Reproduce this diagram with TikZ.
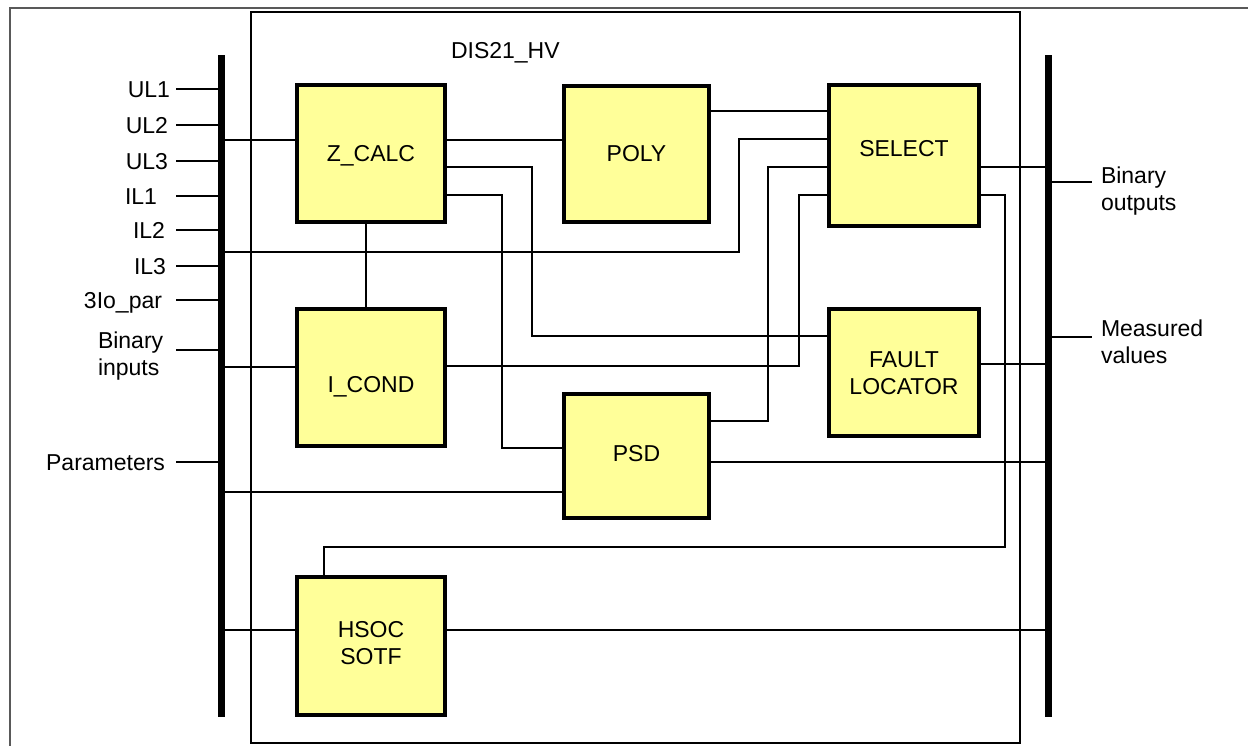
\documentclass[tikz,border=0pt]{standalone}
\usepackage{fontspec}
\setmainfont{Liberation Sans}
\definecolor{boxyellow}{RGB}{255,255,153}
\begin{document}
\begin{tikzpicture}[x=1pt,y=-1pt,
  every node/.style={font=\fontsize{23}{27}\selectfont, inner sep=0pt, outer sep=0pt},
  blk/.style={draw, line width=3.5pt, fill=boxyellow, rectangle},
  frame/.style={draw, line width=2pt, rectangle},
  wire/.style={line width=1.5pt},
  iowire/.style={line width=1.8pt},
  bus/.style={fill=black, rectangle, draw=none},
  lbl/.style={text height=16.5pt, text depth=0pt},
  mlbl/.style={align=center},
  sidelbl/.style={align=left},
]
\useasboundingbox (0,0) rectangle (1248,746);
% outer sheet frame (cropped)
\draw[line width=2pt, black!65] (10,746) -- (10,8.5) -- (1248,8.5);

% main function block
\node[frame, minimum width=769.5, minimum height=731] (dis) at (635.25,377.5) {};
\node[lbl, anchor=west] (title) at (451,50) {DIS21\_HV};

% buses
\node[bus, minimum width=7, minimum height=662] (lbus) at (221.5,386) {};
\node[bus, minimum width=7, minimum height=662] (rbus) at (1048.5,386) {};

% blocks
\node[blk, minimum width=148, minimum height=137] (zcalc)  at (371,153.5) {};
\node[blk, minimum width=145, minimum height=136] (poly)   at (636.5,154) {};
\node[blk, minimum width=150, minimum height=141] (select) at (904,155.5) {};
\node[blk, minimum width=148, minimum height=137] (icond)  at (371,377.5) {};
\node[blk, minimum width=150, minimum height=127] (fault)  at (904,372.5) {};
\node[blk, minimum width=145, minimum height=124] (psd)    at (636.5,456) {};
\node[blk, minimum width=148, minimum height=138] (hsoc)   at (371,646) {};

% block texts
\node[lbl] (zcalct) at (371,153) {Z\_CALC};
\node[lbl] (polyt) at (636.5,153) {POLY};
\node[lbl] (selectt) at (904,148) {SELECT};
\node[lbl] (icondt) at (371,384) {I\_COND};
\node[mlbl] (faultt) at (904,373) {FAULT\\LOCATOR};
\node[lbl] (psdt) at (636.5,453) {PSD};
\node[mlbl] (hsoct) at (371,643) {HSOC\\SOTF};

% input labels
\node[lbl, anchor=east] (ul1) at (170,89) {UL1};
\node[lbl, anchor=east] (ul2) at (168,125) {UL2};
\node[lbl, anchor=east] (ul3) at (168,161) {UL3};
\node[lbl, anchor=east] (il1) at (157,196) {IL1};
\node[lbl, anchor=east] (il2) at (165,230) {IL2};
\node[lbl, anchor=east] (il3) at (166,266) {IL3};
\node[lbl, anchor=east] (io) at (162,300) {3Io\_par};
\node[sidelbl, anchor=west] (binin) at (98,356) {Binary\\inputs};
\node[lbl, anchor=east] (par) at (165,462) {Parameters};

\foreach \n/\y in {ul1/89,ul2/125,ul3/161,il1/196,il2/230,il3/266,io/300,par/462}
  \draw[iowire] (176,\y) -- (lbus.west |- 0,\y);
\draw[iowire] (176,350) -- (lbus.west |- 0,350);

% output labels
\node[sidelbl, anchor=west] (binout) at (1101,191) {Binary\\outputs};
\node[sidelbl, anchor=west] (meas) at (1101,342) {Measured\\values};
\draw[iowire] (rbus.east |- 0,182) -- (1092,182);
\draw[iowire] (rbus.east |- 0,337) -- (1092,337);

% connections
\draw[wire] (lbus.east |- 0,140) -- (zcalc.west |- 0,140);
\draw[wire] (zcalc.east |- 0,140) -- (poly.west |- 0,140);
\draw[wire] (zcalc.east |- 0,167) -- (532,167) -- (532,336) -- (fault.west |- 0,336);
\draw[wire] (zcalc.east |- 0,195) -- (502,195) -- (502,448) -- (psd.west |- 0,448);
\draw[wire] (poly.east |- 0,111) -- (select.west |- 0,111);
\draw[wire] (lbus.east |- 0,252) -- (739,252) -- (739,139) -- (select.west |- 0,139);
\draw[wire] (psd.east |- 0,421) -- (768,421) -- (768,167) -- (select.west |- 0,167);
\draw[wire] (icond.east |- 0,366) -- (799,366) -- (799,195) -- (select.west |- 0,195);
\draw[wire] (select.east |- 0,167) -- (rbus.west |- 0,167);
\draw[wire] (select.east |- 0,195) -- (1005,195) -- (1005,547) -- (324,547) -- (hsoc.north -| 324,0);
\draw[wire] (fault.east |- 0,364) -- (rbus.west |- 0,364);
\draw[wire] (psd.east |- 0,462) -- (rbus.west |- 0,462);
\draw[wire] (lbus.east |- 0,492) -- (psd.west |- 0,492);
\draw[wire] (lbus.east |- 0,367) -- (icond.west |- 0,367);
\draw[wire] (lbus.east |- 0,630) -- (hsoc.west |- 0,630);
\draw[wire] (hsoc.east |- 0,630) -- (rbus.west |- 0,630);
\draw[wire] (zcalc.south -| 366,0) -- (icond.north -| 366,0);
\end{tikzpicture}
\end{document}
